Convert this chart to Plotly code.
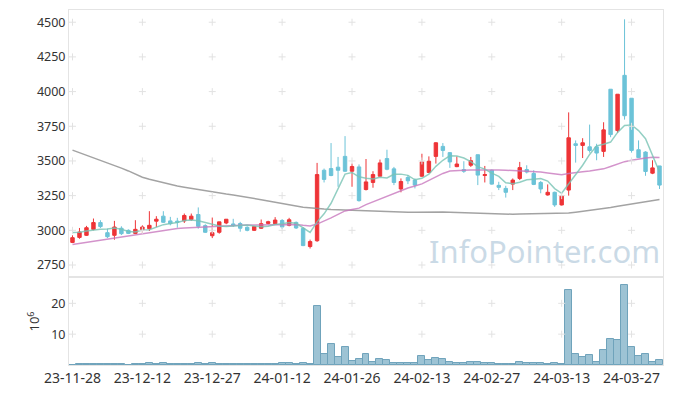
import plotly.graph_objects as go

dates = [
    "2023-11-28", "2023-11-29", "2023-11-30", "2023-12-01", "2023-12-04", "2023-12-05", "2023-12-06",
    "2023-12-07", "2023-12-08", "2023-12-11", "2023-12-12", "2023-12-13", "2023-12-14", "2023-12-15",
    "2023-12-18", "2023-12-19", "2023-12-20", "2023-12-21", "2023-12-22", "2023-12-26", "2023-12-27",
    "2023-12-28", "2024-01-02", "2024-01-03", "2024-01-04", "2024-01-05", "2024-01-08", "2024-01-09",
    "2024-01-10", "2024-01-11", "2024-01-12", "2024-01-15", "2024-01-16", "2024-01-17", "2024-01-18",
    "2024-01-19", "2024-01-22", "2024-01-23", "2024-01-24", "2024-01-25", "2024-01-26", "2024-01-29",
    "2024-01-30", "2024-01-31", "2024-02-01", "2024-02-02", "2024-02-05", "2024-02-06", "2024-02-07",
    "2024-02-08", "2024-02-13", "2024-02-14", "2024-02-15", "2024-02-16", "2024-02-19", "2024-02-20",
    "2024-02-21", "2024-02-22", "2024-02-23", "2024-02-26", "2024-02-27", "2024-02-28", "2024-02-29",
    "2024-03-04", "2024-03-05", "2024-03-06", "2024-03-07", "2024-03-08", "2024-03-11", "2024-03-12",
    "2024-03-13", "2024-03-14", "2024-03-15", "2024-03-18", "2024-03-19", "2024-03-20", "2024-03-21",
    "2024-03-22", "2024-03-25", "2024-03-26", "2024-03-27", "2024-03-28", "2024-03-29", "2024-04-01",
    "2024-04-02",
]

open_ = [2913, 2949, 2964, 3007, 3056, 2983, 2964, 3015, 3000, 2978, 3000, 3012, 3066, 3102, 3068,
         3066, 3068, 3078, 3114, 3034, 2961, 2986, 3053, 3046, 3049, 3022, 3000, 3015, 3050, 3048,
         3071, 3036, 3057, 3014, 2883, 2925, 3433, 3445, 3455, 3533, 3426, 3457, 3294, 3345, 3390,
         3517, 3443, 3298, 3381, 3362, 3390, 3417, 3533, 3605, 3560, 3459, 3438, 3469, 3545, 3395,
         3433, 3324, 3302, 3333, 3374, 3438, 3410, 3345, 3255, 3274, 3183, 3290, 3624, 3612, 3602,
         3602, 3569, 4017, 3719, 4117, 3952, 3581, 3564, 3412, 3464]
high = [2964, 3017, 3032, 3085, 3073, 3012, 3068, 3029, 3007, 3073, 3036, 3138, 3102, 3138, 3097,
        3090, 3121, 3121, 3165, 3044, 3092, 3061, 3080, 3083, 3061, 3029, 3027, 3078, 3069, 3095,
        3081, 3090, 3064, 3024, 2933, 3486, 3445, 3629, 3529, 3679, 3481, 3475, 3514, 3426, 3510,
        3581, 3457, 3374, 3398, 3374, 3552, 3533, 3635, 3629, 3564, 3533, 3498, 3529, 3545, 3464,
        3438, 3350, 3321, 3374, 3493, 3469, 3433, 3355, 3331, 3279, 3255, 3850, 3648, 3664, 3762,
        3624, 3779, 4017, 3981, 4521, 3952, 3648, 3570, 3505, 3464]
low = [2908, 2939, 2959, 3000, 3017, 2944, 2932, 2966, 2973, 2973, 2981, 2995, 3024, 3053, 3036,
       3019, 3053, 3068, 3012, 2981, 2944, 2976, 3044, 3024, 2990, 2993, 2995, 3010, 3043, 3045,
       3010, 3029, 3010, 2886, 2869, 2917, 3345, 3390, 3314, 3421, 3314, 3207, 3287, 3307, 3386,
       3433, 3326, 3274, 3333, 3302, 3386, 3412, 3481, 3529, 3450, 3455, 3414, 3457, 3326, 3345,
       3329, 3290, 3236, 3290, 3362, 3410, 3326, 3267, 3250, 3169, 3179, 3250, 3488, 3521, 3560,
       3505, 3529, 3671, 3702, 3798, 3560, 3521, 3393, 3405, 3298]
close = [2947, 2988, 3019, 3056, 3027, 2954, 3024, 2976, 2978, 3007, 3024, 3036, 3080, 3058, 3048,
         3058, 3107, 3102, 3029, 2986, 2983, 3061, 3080, 3034, 3015, 3000, 3027, 3048, 3062, 3074,
         3024, 3076, 3017, 2890, 2919, 3402, 3367, 3395, 3433, 3426, 3460, 3214, 3349, 3402, 3486,
         3440, 3345, 3352, 3357, 3326, 3493, 3498, 3631, 3576, 3493, 3478, 3426, 3502, 3398, 3402,
         3333, 3310, 3274, 3362, 3452, 3420, 3331, 3298, 3274, 3183, 3250, 3667, 3612, 3631, 3576,
         3557, 3724, 3690, 3981, 3826, 3576, 3524, 3424, 3450, 3326]

ma5 = [2985, 2987, 2995, 3003, 3007, 3009, 3016, 3007, 2992, 2988, 3002, 3004, 3025, 3041, 3049,
       3056, 3070, 3075, 3069, 3056, 3041, 3032, 3028, 3029, 3035, 3038, 3031, 3025, 3030, 3042,
       3047, 3057, 3051, 3016, 2985, 3061, 3119, 3195, 3303, 3405, 3416, 3386, 3376, 3370, 3382,
       3378, 3404, 3405, 3396, 3364, 3375, 3405, 3461, 3505, 3538, 3535, 3521, 3495, 3459, 3441,
       3412, 3389, 3343, 3336, 3346, 3364, 3368, 3373, 3355, 3301, 3267, 3334, 3397, 3469, 3547,
       3609, 3620, 3636, 3706, 3756, 3759, 3719, 3660, 3540, 3420]
ma20 = [2898, 2906, 2914, 2922, 2930, 2938, 2946, 2954, 2962, 2970, 2977, 2985, 2992, 2999, 3006,
        3013, 3017, 3020, 3024, 3027, 3029, 3031, 3033, 3035, 3037, 3038, 3039, 3040, 3041, 3042,
        3044, 3046, 3042, 3036, 3032, 3045, 3065, 3090, 3115, 3140, 3150, 3160, 3185, 3205, 3225,
        3248, 3270, 3290, 3305, 3320, 3335, 3360, 3385, 3410, 3428, 3432, 3433, 3434, 3435, 3435,
        3435, 3434, 3433, 3431, 3430, 3427, 3424, 3420, 3414, 3405, 3400, 3410, 3418, 3422, 3428,
        3434, 3443, 3460, 3480, 3495, 3505, 3515, 3522, 3526, 3524]
ma60 = [3578, 3560, 3542, 3524, 3505, 3487, 3468, 3448, 3428, 3405, 3383, 3368, 3355, 3342, 3330,
        3320, 3311, 3302, 3293, 3285, 3276, 3268, 3261, 3254, 3247, 3240, 3231, 3221, 3211, 3201,
        3192, 3183, 3175, 3167, 3161, 3157, 3153, 3150, 3148, 3145, 3142, 3140, 3137, 3135, 3133,
        3132, 3131, 3130, 3130, 3131, 3132, 3133, 3133, 3132, 3130, 3128, 3126, 3124, 3122, 3120,
        3118, 3117, 3116, 3116, 3117, 3118, 3119, 3119, 3119, 3120, 3121, 3125, 3131, 3137, 3143,
        3149, 3157, 3165, 3173, 3181, 3190, 3199, 3207, 3214, 3222]

volume_m = [0, 0.3, 0.3, 0.3, 0.3, 0.3, 0.3, 0.3, 0, 0.3, 0.3, 0.8, 0.3, 0.5, 0.3,
            0.3, 0.3, 0.3, 0.5, 0.3, 0.5, 0.3, 0.3, 0.3, 0.3, 0.3, 0.3, 0.3, 0.3, 0.3,
            0.5, 0.5, 0.3, 0.5, 0.3, 19.0, 3.6, 6.8, 2.7, 5.9, 1.4, 1.8, 3.7, 0.85, 1.9,
            1.6, 0.5, 0.5, 0.5, 0.5, 2.9, 1.6, 2.2, 1.9, 0.85, 0.5, 0.5, 0.85, 0.85, 0.5,
            0.5, 0.2, 0.2, 0.2, 0.85, 0.5, 0.5, 0.5, 0.2, 0.5, 0.2, 24.2, 3.7, 2.6, 3.1,
            0.85, 4.8, 8.5, 8.0, 25.9, 5.7, 2.9, 3.4, 0.85, 1.6]

tick_dates = [dates[i] for i in range(0, 85, 10)]
tick_text = [d[2:] for d in tick_dates]
price_ticks = [2750, 3000, 3250, 3500, 3750, 4000, 4250, 4500]
vol_ticks = [10, 20]

RED = "#ee3437"
CYAN = "#6cc3d8"
FONT = "Noto Sans"

fig = go.Figure()

fig.add_trace(go.Scatter(x=dates, y=ma60, mode="lines", line=dict(color="rgba(140,140,140,0.8)", width=1.5),
                         xaxis="x", yaxis="y", showlegend=False))
fig.add_trace(go.Scatter(x=dates, y=ma20, mode="lines", line=dict(color="rgba(200,120,190,0.8)", width=1.5),
                         xaxis="x", yaxis="y", showlegend=False))
fig.add_trace(go.Candlestick(x=dates, open=open_, high=high, low=low, close=close,
                             xaxis="x", yaxis="y",
                             increasing=dict(line=dict(color=RED, width=1), fillcolor=RED),
                             decreasing=dict(line=dict(color=CYAN, width=1), fillcolor=CYAN),
                             whiskerwidth=0, showlegend=False))
fig.add_trace(go.Scatter(x=dates, y=ma5, mode="lines", line=dict(color="rgba(120,195,180,0.8)", width=1.5),
                         xaxis="x", yaxis="y", showlegend=False))

fig.add_trace(go.Bar(x=dates, y=volume_m, xaxis="x2", yaxis="y2",
                     marker=dict(color="rgba(140,185,205,0.85)", line=dict(color="#6fa3bb", width=1)),
                     showlegend=False))

# grid "+" marks at tick intersections
gx, gy = [], []
for d in tick_dates:
    for p in price_ticks:
        gx.append(d)
        gy.append(p)
fig.add_trace(go.Scatter(x=gx, y=gy, mode="markers", xaxis="x", yaxis="y",
                         marker=dict(symbol="cross-thin", size=5, line=dict(color="#e2e2e2", width=1)),
                         hoverinfo="skip", showlegend=False))
vx, vy = [], []
for d in tick_dates:
    for v in vol_ticks:
        vx.append(d)
        vy.append(v)
fig.add_trace(go.Scatter(x=vx, y=vy, mode="markers", xaxis="x2", yaxis="y2",
                         marker=dict(symbol="cross-thin", size=5, line=dict(color="#e2e2e2", width=1)),
                         hoverinfo="skip", showlegend=False))

axis_common = dict(showgrid=False, zeroline=False, showline=True, linecolor="#e4e4e4", linewidth=1, mirror=True)

fig.update_layout(
    width=673, height=396,
    margin=dict(l=69, r=9, t=10, b=29),
    paper_bgcolor="white", plot_bgcolor="white",
    bargap=0, boxgap=0.3,
    font=dict(family=FONT, color="#333333", size=12),
    xaxis=dict(type="category", categoryorder="array", categoryarray=dates,
               range=[-0.5, 84.5], anchor="y", showticklabels=False,
               rangeslider=dict(visible=False), ticks="", **axis_common),
    yaxis=dict(domain=[0.25, 1], range=[2669, 4588], tickvals=price_ticks, ticks="",
               tickfont=dict(size=12.5, family=FONT, color="#333"), **axis_common),
    xaxis2=dict(type="category", categoryorder="array", categoryarray=dates,
                range=[-0.5, 84.5], anchor="y2", matches="x",
                tickvals=tick_dates, ticktext=tick_text, ticks="", tickangle=0,
                tickfont=dict(size=14, family=FONT, color="#333"), **axis_common),
    yaxis2=dict(domain=[0, 0.245], range=[0, 28.2], tickvals=vol_ticks, ticks="",
                tickfont=dict(size=12.5, family=FONT, color="#333"),
                title=dict(text="10<sup>6</sup>", font=dict(size=13, family=FONT, color="#333"), standoff=8),
                **axis_common),
    annotations=[dict(text="InfoPointer.com", xref="paper", yref="paper", x=0.998, y=0.256,
                      xanchor="right", yanchor="bottom", showarrow=False,
                      font=dict(size=31, family=FONT, color="rgba(150,182,206,0.5)"))],
)

fig.write_html("out.html", config={"displayModeBar": False},
               post_script="document.body.style.margin='0';document.body.style.padding='0';")
